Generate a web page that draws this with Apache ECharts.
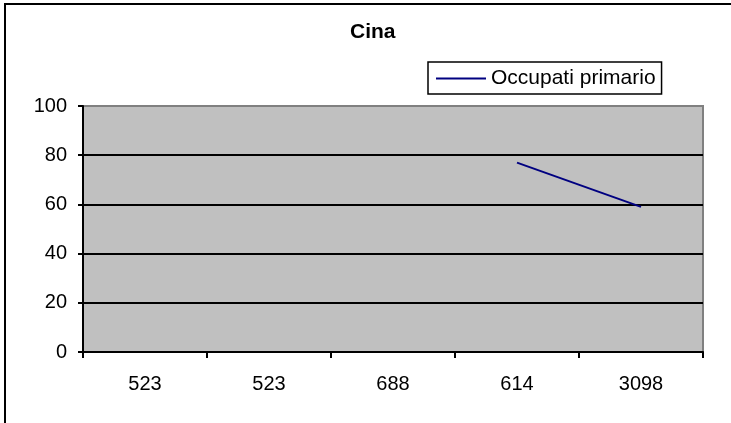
<!DOCTYPE html>
<html>
<head>
<meta charset="utf-8">
<script src="https://cdn.jsdelivr.net/npm/echarts@6/dist/echarts.min.js"></script>
<style>
  html, body { margin: 0; padding: 0; background: #fff; }
  #chart { width: 731px; height: 423px; }
</style>
</head>
<body>
<div id="chart"></div>
<script>
// Category labels along the x axis
const categories = ['523', '523', '688', '614', '3098'];
// Share of employment in the primary sector (missing years left empty)
const occupatiPrimario = [null, null, null, 77, 59];
// Value axis ticks
const yTicks = [0, 20, 40, 60, 80, 100];

const chart = echarts.init(document.getElementById('chart'));
const font = 'Liberation Sans, Arial, sans-serif';

chart.setOption({
  animation: false,
  backgroundColor: '#fff',
  title: {
    text: 'Cina',
    left: 350,
    top: 22,
    padding: 0,
    textStyle: { fontFamily: font, fontSize: 21, fontWeight: 'bold', color: '#000' }
  },
  legend: {
    left: 428,
    top: 62,
    padding: [6, 6, 5, 8],
    borderColor: '#000',
    borderWidth: 1.5,
    itemWidth: 50,
    itemHeight: 2,
    itemGap: 2,
    icon: 'rect',
    textStyle: { fontFamily: font, fontSize: 21, color: '#000', padding: [0, 0, 0, 0] },
    data: ['Occupati primario']
  },
  graphic: [{
    // frame around the chart: top and left edges
    type: 'polyline',
    shape: { points: [[5, 430], [5, 4], [740, 4]] },
    style: { fill: 'none', stroke: '#000', lineWidth: 2 },
    silent: true
  }],
  grid: {
    left: 83,
    right: 28,
    top: 106,
    bottom: 71,
    show: true,
    backgroundColor: '#C0C0C0',
    borderColor: '#808080',
    borderWidth: 2
  },
  xAxis: {
    type: 'category',
    data: categories,
    boundaryGap: true,
    axisLine: { lineStyle: { color: '#000', width: 2 } },
    axisTick: { show: true, inside: false, length: 6, lineStyle: { color: '#000', width: 2 } },
    axisLabel: { fontFamily: font, fontSize: 20, color: '#000', margin: 22 },
    splitLine: { show: false }
  },
  yAxis: {
    type: 'value',
    min: yTicks[0],
    max: yTicks[yTicks.length - 1],
    interval: 20,
    axisLine: { show: true, lineStyle: { color: '#000', width: 2 } },
    axisTick: { show: true, length: 5, lineStyle: { color: '#000', width: 2 } },
    axisLabel: { fontFamily: font, fontSize: 20, color: '#000', margin: 16 },
    splitLine: {
      show: true,
      showMinLine: false,
      showMaxLine: false,
      lineStyle: { color: '#000', width: 2 }
    }
  },
  series: [{
    name: 'Occupati primario',
    type: 'line',
    data: occupatiPrimario,
    connectNulls: false,
    showSymbol: false,
    symbol: 'none',
    lineStyle: { color: '#000080', width: 2 },
    itemStyle: { color: '#000080' }
  }]
});
</script>
</body>
</html>
